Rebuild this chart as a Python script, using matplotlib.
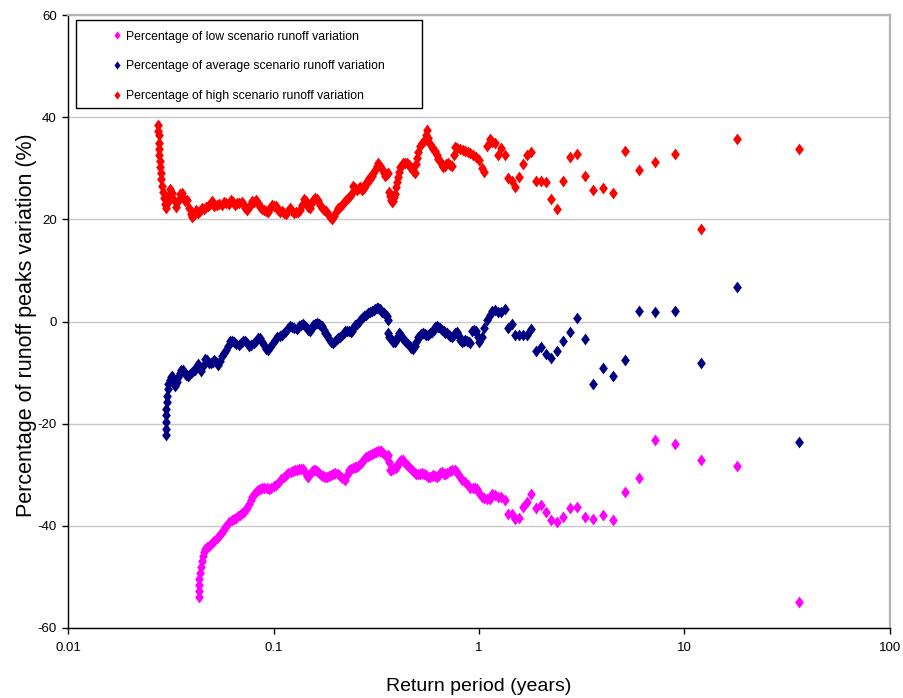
import matplotlib.pyplot as plt
from matplotlib.patches import Rectangle
from matplotlib.ticker import FixedLocator, FixedFormatter, NullLocator

plt.rcParams['font.family'] = ['Liberation Sans', 'DejaVu Sans']
plt.rcParams['axes.unicode_minus'] = False

# return periods of the 36 largest peaks (same for all three scenarios)
tail_period = [1.0, 1.029, 1.059, 1.091, 1.125, 1.161, 1.2, 1.241, 1.286, 1.333,
               1.385, 1.44, 1.5, 1.565, 1.636, 1.714, 1.8, 1.895, 2.0, 2.118,
               2.25, 2.4, 2.571, 2.769, 3.0, 3.273, 3.6, 4.0, 4.5, 5.143,
               6.0, 7.2, 9.0, 12.0, 18.0, 36.0]

# high scenario
red_dense_period = [0.0275, 0.0275, 0.0276, 0.0276, 0.0277, 0.0278, 0.0279, 0.0281, 0.0283, 0.0285,
                    0.0287, 0.0290, 0.0293, 0.0296, 0.0300, 0.0305, 0.0310, 0.0315, 0.0320, 0.0328,
                    0.0335, 0.0342, 0.0350, 0.0357, 0.0365, 0.0373, 0.0380, 0.0388, 0.0395, 0.0402,
                    0.0410, 0.0420, 0.0430, 0.0440, 0.0450, 0.0460, 0.0470, 0.0480, 0.0490, 0.0500,
                    0.0515, 0.0530, 0.0545, 0.0560, 0.0575, 0.0590, 0.0605, 0.0620, 0.0635, 0.0650,
                    0.0665, 0.0680, 0.0700, 0.0715, 0.0730, 0.0745, 0.0760, 0.0775, 0.0790, 0.0805,
                    0.0820, 0.0840, 0.0860, 0.0880, 0.0900, 0.0920, 0.0940, 0.0960, 0.0980, 0.1000,
                    0.1025, 0.1050, 0.1075, 0.1100, 0.1125, 0.1150, 0.1175, 0.1200, 0.1230, 0.1260,
                    0.1290, 0.1320, 0.1350, 0.1380, 0.1410, 0.1440, 0.1470, 0.1500, 0.1530, 0.1560,
                    0.1590, 0.1620, 0.1650, 0.1690, 0.1730, 0.1770, 0.1810, 0.1850, 0.1890, 0.1930,
                    0.1970, 0.2010, 0.2050, 0.2100, 0.2150, 0.2200, 0.2250, 0.2300, 0.2350, 0.2400,
                    0.2450, 0.2500, 0.2550, 0.2600, 0.2650, 0.2700, 0.2750, 0.2800, 0.2850, 0.2900,
                    0.2950, 0.3000, 0.3050, 0.3120, 0.3180, 0.3230, 0.3300, 0.3380, 0.3440, 0.3490,
                    0.3550, 0.3610, 0.3650, 0.3690, 0.3730, 0.3770, 0.3810, 0.3860, 0.3900, 0.3940,
                    0.3980, 0.4030, 0.4080, 0.4140, 0.4210, 0.4280, 0.4360, 0.4460, 0.4550, 0.4640,
                    0.4720, 0.4800, 0.4880, 0.4940, 0.4990, 0.5060, 0.5160, 0.5270, 0.5370, 0.5460,
                    0.5530, 0.5590, 0.5650, 0.5780, 0.5900, 0.6000, 0.6110, 0.6230, 0.6350, 0.6460,
                    0.6570, 0.6680, 0.6800, 0.6930, 0.7070, 0.7230, 0.7390, 0.7520, 0.7650, 0.7820,
                    0.8090, 0.8320, 0.8550, 0.8800, 0.9050, 0.9340, 0.9670]
red_dense_pct = [38.5, 37.3, 36.5, 35.0, 33.8, 32.6, 31.4, 30.2, 29.0, 27.8,
                 26.6, 25.4, 24.2, 23.0, 22.3, 23.4, 24.8, 25.9, 25.2, 23.8,
                 22.4, 23.6, 24.9, 25.1, 24.0, 23.5, 23.8, 22.2, 21.0, 20.5,
                 20.9, 21.8, 21.2, 21.6, 22.3, 22.0, 22.4, 22.7, 23.0, 23.5,
                 22.7, 22.9, 23.0, 22.8, 23.4, 23.1, 23.0, 23.7, 23.3, 22.9,
                 23.2, 23.1, 23.3, 22.8, 22.3, 21.8, 22.4, 23.0, 23.6, 23.4,
                 23.8, 23.2, 22.5, 22.0, 21.8, 21.6, 21.4, 22.3, 22.9, 22.6,
                 22.6, 21.8, 21.5, 21.7, 21.2, 21.1, 21.6, 22.2, 21.6, 21.3,
                 21.5, 21.4, 21.9, 22.8, 24.0, 23.5, 22.4, 22.2, 23.0, 23.8,
                 24.2, 23.9, 23.6, 22.9, 22.2, 21.9, 21.6, 21.0, 20.4, 20.0,
                 20.6, 21.5, 22.2, 22.4, 22.8, 23.3, 23.8, 24.1, 24.6, 25.2,
                 26.6, 26.2, 25.8, 26.1, 26.3, 25.8, 26.2, 26.9, 27.1, 28.0,
                 27.8, 28.5, 29.0, 29.6, 30.4, 31.0, 30.4, 29.8, 29.0, 28.4,
                 28.8, 29.0, 25.4, 24.6, 23.8, 23.4, 23.6, 24.3, 24.9, 26.4,
                 27.3, 28.2, 29.2, 30.2, 30.6, 31.0, 31.1, 31.0, 30.6, 30.3,
                 30.0, 29.5, 29.0, 30.8, 32.0, 33.2, 34.3, 34.9, 35.4, 35.6,
                 36.6, 37.4, 36.0, 34.8, 34.2, 33.7, 33.3, 32.5, 31.9, 31.4,
                 30.7, 30.2, 30.4, 30.8, 31.0, 30.7, 30.4, 32.5, 34.2, 34.0,
                 33.7, 33.5, 33.3, 33.1, 32.9, 32.6, 32.3]
red_tail_pct = [31.6, 30.0, 29.2, 34.4, 35.8, 35.2, 35.0, 32.5, 33.9, 32.5,
                28.0, 27.6, 26.4, 28.2, 30.9, 32.5, 33.1, 27.6, 27.6, 27.4,
                23.9, 22.1, 27.6, 32.3, 32.7, 28.4, 25.8, 26.2, 25.2, 33.3,
                29.7, 31.3, 32.7, 18.2, 35.8, 33.7]

# average scenario
blue_dense_period = [0.0300, 0.0300, 0.0300, 0.0301, 0.0301, 0.0302, 0.0303, 0.0305, 0.0308, 0.0312,
                     0.0317, 0.0322, 0.0327, 0.0332, 0.0338, 0.0344, 0.0350, 0.0356, 0.0362, 0.0369,
                     0.0376, 0.0383, 0.0390, 0.0398, 0.0406, 0.0414, 0.0422, 0.0430, 0.0438, 0.0446,
                     0.0455, 0.0464, 0.0475, 0.0485, 0.0495, 0.0505, 0.0515, 0.0525, 0.0537, 0.0549,
                     0.0561, 0.0573, 0.0586, 0.0600, 0.0614, 0.0628, 0.0643, 0.0660, 0.0677, 0.0693,
                     0.0710, 0.0727, 0.0745, 0.0763, 0.0781, 0.0800, 0.0820, 0.0840, 0.0860, 0.0880,
                     0.0900, 0.0920, 0.0941, 0.0965, 0.0995, 0.1020, 0.1045, 0.1070, 0.1095, 0.1120,
                     0.1145, 0.1170, 0.1200, 0.1230, 0.1265, 0.1300, 0.1330, 0.1360, 0.1390, 0.1420,
                     0.1450, 0.1480, 0.1505, 0.1535, 0.1565, 0.1595, 0.1627, 0.1660, 0.1690, 0.1720,
                     0.1755, 0.1790, 0.1820, 0.1860, 0.1900, 0.1945, 0.1985, 0.2030, 0.2070, 0.2110,
                     0.2150, 0.2200, 0.2240, 0.2280, 0.2320, 0.2370, 0.2410, 0.2450, 0.2500, 0.2550,
                     0.2600, 0.2650, 0.2700, 0.2760, 0.2820, 0.2880, 0.2950, 0.3010, 0.3070, 0.3130,
                     0.3190, 0.3230, 0.3280, 0.3330, 0.3380, 0.3430, 0.3490, 0.3550, 0.3600, 0.3620,
                     0.3660, 0.3710, 0.3770, 0.3830, 0.3900, 0.3960, 0.4020, 0.4080, 0.4140, 0.4210,
                     0.4280, 0.4350, 0.4420, 0.4500, 0.4590, 0.4680, 0.4770, 0.4860, 0.4950, 0.5050,
                     0.5140, 0.5230, 0.5330, 0.5430, 0.5530, 0.5640, 0.5770, 0.5900, 0.6020, 0.6130,
                     0.6240, 0.6350, 0.6470, 0.6590, 0.6720, 0.6850, 0.6980, 0.7120, 0.7260, 0.7390,
                     0.7520, 0.7660, 0.7810, 0.7960, 0.8110, 0.8260, 0.8420, 0.8580, 0.8740, 0.8900,
                     0.9050, 0.9240, 0.9450, 0.9670, 0.9850]
blue_dense_pct = [-22.3, -21.0, -19.7, -18.4, -17.1, -15.8, -14.5, -13.3, -12.2, -11.4,
                  -10.9, -10.6, -11.8, -12.7, -11.8, -10.8, -10.0, -9.4, -9.5, -10.0,
                  -10.5, -10.6, -10.4, -10.0, -9.6, -9.4, -8.8, -8.3, -9.0, -9.6,
                  -8.7, -7.4, -7.6, -8.1, -8.2, -7.9, -7.6, -8.0, -8.6, -7.8,
                  -6.7, -6.1, -5.6, -4.8, -3.8, -3.8, -4.0, -4.4, -4.6, -4.3,
                  -3.9, -3.8, -4.2, -4.7, -4.6, -4.3, -3.8, -3.3, -3.3, -4.0,
                  -4.6, -5.3, -5.6, -5.0, -4.3, -3.6, -3.1, -2.9, -2.6, -2.3,
                  -1.8, -1.3, -0.8, -1.0, -1.3, -1.4, -0.9, -0.6, -0.4, -0.8,
                  -1.3, -1.7, -1.8, -1.2, -0.7, -0.4, -0.2, -0.4, -0.6, -0.8,
                  -1.6, -2.3, -2.7, -3.4, -4.0, -4.3, -3.9, -3.5, -3.2, -3.0,
                  -2.6, -2.2, -1.9, -1.8, -1.9, -2.0, -1.8, -1.2, -0.7, -0.4,
                  -0.1, 0.3, 0.6, 1.0, 1.3, 1.6, 1.8, 2.0, 2.2, 2.4,
                  2.6, 2.7, 2.4, 2.0, 1.8, 1.7, 1.4, 1.0, 0.3, -2.3,
                  -3.0, -3.5, -3.7, -4.0, -4.1, -3.6, -2.9, -2.3, -2.5, -3.0,
                  -3.5, -3.8, -4.0, -4.4, -4.8, -5.1, -5.3, -4.8, -4.0, -3.1,
                  -2.8, -2.5, -2.3, -2.4, -2.6, -2.6, -2.3, -2.1, -1.6, -1.1,
                  -0.8, -1.0, -1.3, -1.6, -1.9, -2.2, -2.3, -2.6, -2.9, -3.1,
                  -2.6, -2.2, -2.0, -2.8, -3.6, -4.1, -3.8, -3.6, -3.8, -4.1,
                  -4.3, -1.8, -1.6, -1.8, -3.0]
blue_tail_pct = [-4.1, -3.0, -1.2, 0.2, 1.2, 2.0, 2.2, 1.8, 1.8, 2.5,
                 -1.2, -0.4, -2.7, -2.7, -2.7, -2.7, -1.4, -5.7, -5.0, -6.3,
                 -7.2, -5.7, -3.9, -2.0, 0.6, -3.5, -12.3, -9.2, -10.6, -7.6,
                 2.0, 1.8, 2.0, -8.2, 6.8, -23.5]

# low scenario
mag_dense_period = [0.0434, 0.0433, 0.0434, 0.0436, 0.0439, 0.0443, 0.0447, 0.0452, 0.0458, 0.0466,
                    0.0475, 0.0485, 0.0495, 0.0505, 0.0515, 0.0528, 0.0540, 0.0553, 0.0566, 0.0580,
                    0.0595, 0.0610, 0.0625, 0.0640, 0.0655, 0.0670, 0.0685, 0.0700, 0.0715, 0.0730,
                    0.0745, 0.0760, 0.0775, 0.0790, 0.0805, 0.0820, 0.0840, 0.0860, 0.0880, 0.0900,
                    0.0925, 0.0950, 0.0975, 0.1000, 0.1030, 0.1060, 0.1090, 0.1120, 0.1150, 0.1180,
                    0.1210, 0.1240, 0.1270, 0.1300, 0.1330, 0.1360, 0.1390, 0.1420, 0.1450, 0.1480,
                    0.1510, 0.1540, 0.1570, 0.1600, 0.1630, 0.1660, 0.1700, 0.1740, 0.1780, 0.1820,
                    0.1860, 0.1900, 0.1950, 0.2000, 0.2050, 0.2100, 0.2150, 0.2220, 0.2280, 0.2330,
                    0.2380, 0.2430, 0.2480, 0.2530, 0.2580, 0.2640, 0.2700, 0.2760, 0.2820, 0.2880,
                    0.2940, 0.3000, 0.3070, 0.3140, 0.3210, 0.3280, 0.3350, 0.3420, 0.3490, 0.3560,
                    0.3610, 0.3650, 0.3690, 0.3740, 0.3800, 0.3870, 0.3940, 0.4010, 0.4090, 0.4170,
                    0.4250, 0.4330, 0.4410, 0.4490, 0.4580, 0.4670, 0.4760, 0.4860, 0.4960, 0.5060,
                    0.5170, 0.5280, 0.5400, 0.5520, 0.5640, 0.5760, 0.5880, 0.6000, 0.6120, 0.6240,
                    0.6360, 0.6480, 0.6600, 0.6730, 0.6860, 0.7000, 0.7200, 0.7400, 0.7600, 0.7750,
                    0.7900, 0.8100, 0.8300, 0.8550, 0.8800, 0.9050, 0.9300, 0.9550, 0.9800]
mag_dense_pct = [-54.0, -52.8, -51.6, -50.4, -49.2, -48.0, -46.9, -45.9, -45.2, -44.6,
                 -44.2, -43.9, -43.5, -43.2, -42.9, -42.4, -41.9, -41.5, -41.0, -40.3,
                 -39.8, -39.3, -38.9, -38.7, -38.4, -38.1, -37.8, -37.5, -37.2, -36.9,
                 -36.5, -35.8, -35.0, -34.3, -33.8, -33.3, -33.0, -32.8, -32.6, -32.5,
                 -32.6, -32.7, -32.6, -32.3, -32.0, -31.5, -30.9, -30.5, -30.1, -29.7,
                 -29.5, -29.3, -29.1, -29.0, -28.9, -28.8, -28.9, -29.5, -30.2, -30.5,
                 -29.9, -29.3, -29.0, -29.1, -29.3, -29.6, -30.0, -30.3, -30.5, -30.4,
                 -30.2, -30.1, -29.9, -29.7, -29.8, -30.2, -30.6, -31.1, -30.0, -29.0,
                 -28.8, -28.7, -28.5, -28.4, -28.2, -27.9, -27.5, -27.0, -26.6, -26.3,
                 -26.1, -25.9, -25.8, -25.6, -25.4, -25.3, -25.3, -25.7, -26.1, -26.5,
                 -26.2, -27.5, -29.0, -29.0, -28.9, -28.7, -28.6, -28.3, -27.6, -27.1,
                 -27.2, -27.5, -27.9, -28.3, -28.5, -28.8, -29.3, -29.6, -29.8, -29.9,
                 -29.8, -29.6, -29.9, -30.1, -30.4, -30.5, -30.3, -30.0, -30.2, -30.5,
                 -30.1, -29.6, -29.4, -29.8, -29.9, -29.6, -29.3, -29.0, -29.0, -29.2,
                 -29.8, -30.5, -31.0, -31.5, -32.0, -32.5, -32.5, -32.5, -32.7]
mag_tail_pct = [-33.5, -34.3, -34.6, -34.8, -34.8, -33.7, -34.0, -34.4, -34.4, -35.0,
                -37.6, -37.6, -38.7, -38.4, -36.4, -35.4, -33.7, -36.6, -36.0, -37.2,
                -38.9, -39.3, -38.2, -36.6, -36.4, -38.2, -38.6, -37.8, -38.9, -33.3,
                -30.7, -23.1, -23.9, -27.2, -28.2, -55.0]

labels = ['Percentage of low scenario runoff variation',
          'Percentage of average scenario runoff variation',
          'Percentage of high scenario runoff variation']
xticks = [0.01, 0.1, 1, 10, 100]
xtick_labels = ['0.01', '0.1', '1', '10', '100']
yticks = [-60, -40, -20, 0, 20, 40, 60]

low_period = mag_dense_period + tail_period
low_pct = mag_dense_pct + mag_tail_pct
avg_period = blue_dense_period + tail_period
avg_pct = blue_dense_pct + blue_tail_pct
high_period = red_dense_period + tail_period
high_pct = red_dense_pct + red_tail_pct

fig = plt.figure(figsize=(9.04, 6.98), dpi=100)
ax = fig.add_axes([68 / 904, 70 / 698, 822 / 904, 613 / 698])

diamond = [(0, 1), (0.74, 0), (0, -1), (-0.74, 0), (0, 1)]
ax.plot(low_period, low_pct, ls='none', marker=diamond, ms=8.5, mew=0,
        color='#FF00FF', label=labels[0])
ax.plot(avg_period, avg_pct, ls='none', marker=diamond, ms=8.5, mew=0,
        color='#000080', label=labels[1])
ax.plot(high_period, high_pct, ls='none', marker=diamond, ms=8.5, mew=0,
        color='#FF0000', label=labels[2])

ax.set_xscale('log')
ax.set_xlim(0.01, 100)
ax.set_ylim(-60, 60)
ax.xaxis.set_major_locator(FixedLocator(xticks))
ax.xaxis.set_major_formatter(FixedFormatter(xtick_labels))
ax.xaxis.set_minor_locator(NullLocator())
ax.set_yticks(yticks)
ax.yaxis.grid(True, color='#c8c8c8', lw=1)
ax.set_axisbelow(True)

for s in ['top', 'right']:
    ax.spines[s].set_color('#b4b4b4')
    ax.spines[s].set_linewidth(1.6)
for s in ['left', 'bottom']:
    ax.spines[s].set_color('black')
    ax.spines[s].set_linewidth(1.0)

ax.tick_params(axis='both', direction='out', length=4, width=1, labelsize=9.5)
ax.tick_params(axis='x', pad=6)
ax.tick_params(axis='y', pad=4)

ax.set_xlabel('Return period (years)', fontsize=14)
ax.xaxis.set_label_coords(0.5, -0.081)
ax.set_ylabel('Percentage of runoff peaks variation (%)', fontsize=15.5)
ax.yaxis.set_label_coords(-0.038, 0.494)

# legend box
ax.add_patch(Rectangle((0.0097, 0.8483), 0.421, 0.1435, transform=ax.transAxes,
                       facecolor='white', edgecolor='black', lw=1, zorder=4))
leg = ax.legend(loc='upper left', bbox_to_anchor=(0.0551, 0.9745), frameon=False,
                borderpad=0, borderaxespad=0, handlelength=0.6, handletextpad=0.44,
                labelspacing=1.45, markerscale=0.7, numpoints=1, fontsize=8.8)
leg.set_zorder(5)

fig.savefig('out.png', dpi=100)
